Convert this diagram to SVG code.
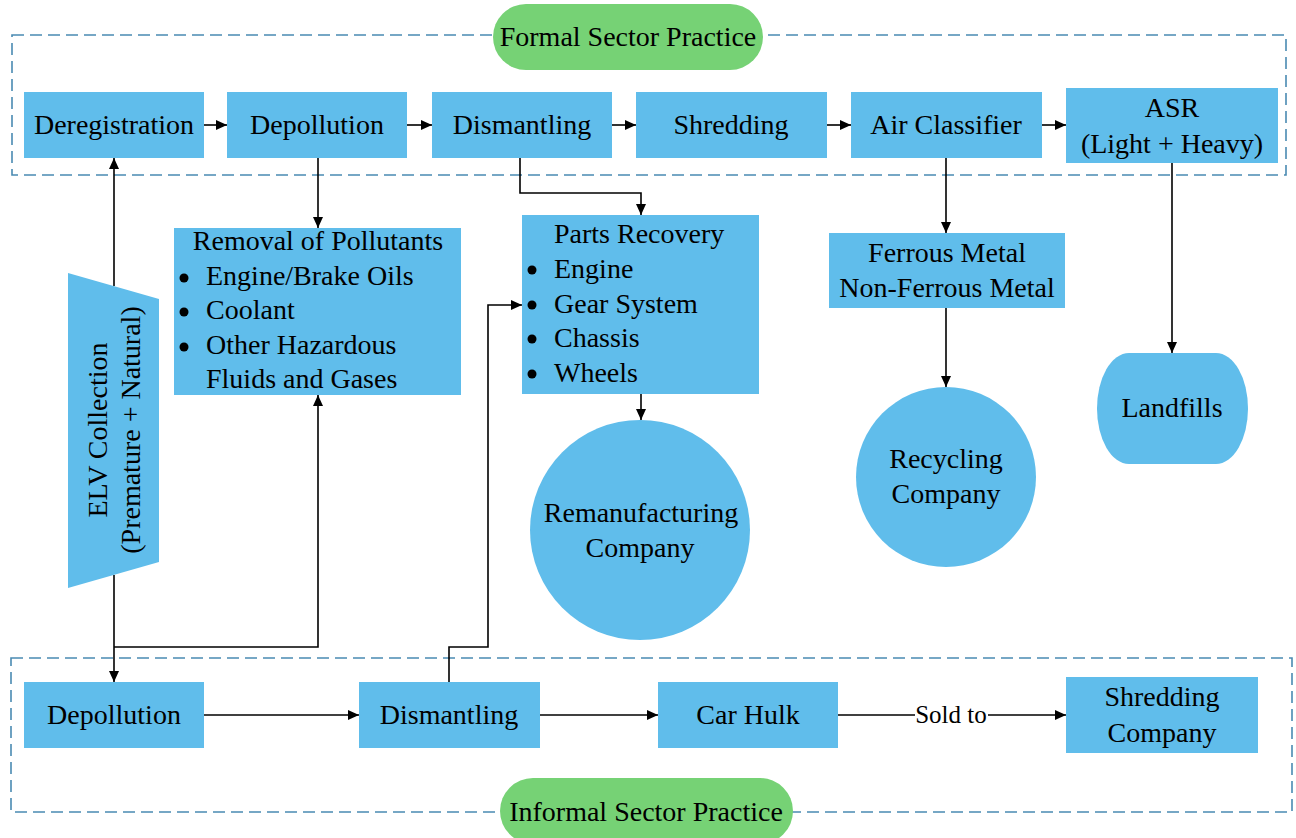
<svg xmlns="http://www.w3.org/2000/svg" width="1296" height="838" viewBox="0 0 1296 838">
  <defs>
    <marker id="arrow" markerUnits="userSpaceOnUse" markerWidth="12" markerHeight="10" refX="11" refY="5" orient="auto">
      <path d="M0,0 L11,5 L0,10 z" fill="#000"/>
    </marker>
    <style>
      .box { fill: #60BDEB; }
      .pill { fill: #76D275; }
      .zone { fill: none; stroke: #4A8AB2; stroke-width: 1.6; stroke-dasharray: 12 6; }
      .t { font-family: "Liberation Serif", "Times New Roman", serif; font-size: 28px; fill: #000; }
      .c { text-anchor: middle; }
      .small { font-size: 25px; }
      .link { fill: none; stroke: #000; stroke-width: 1.6; }
      .arr { marker-end: url(#arrow); }
    </style>
  </defs>
  <rect width="1296" height="838" fill="#fff"/>

  <!-- sector zones (dashed frames) -->
  <g id="zones">
    <rect class="zone" x="12" y="35" width="1274" height="140"/>
    <rect class="zone" x="11" y="658" width="1281" height="154"/>
  </g>

  <!-- connectors -->
  <g id="connectors">
    <line class="link arr" x1="204" y1="125" x2="227" y2="125"/>
    <line class="link arr" x1="407" y1="125" x2="432" y2="125"/>
    <line class="link arr" x1="612" y1="125" x2="636" y2="125"/>
    <line class="link arr" x1="827" y1="125" x2="851" y2="125"/>
    <line class="link arr" x1="1042" y1="125" x2="1066" y2="125"/>
    <!-- ELV collection up to deregistration -->
    <line class="link arr" x1="114" y1="286" x2="114" y2="158"/>
    <!-- depollution to removal of pollutants -->
    <line class="link arr" x1="318" y1="158" x2="318" y2="228"/>
    <!-- dismantling to parts recovery -->
    <polyline class="link arr" points="520,158 520,193 641,193 641,215"/>
    <line class="link arr" x1="641" y1="394" x2="641" y2="420"/>
    <!-- air classifier to metals, metals to recycling -->
    <line class="link arr" x1="946" y1="158" x2="946" y2="233"/>
    <line class="link arr" x1="946" y1="308" x2="946" y2="387"/>
    <!-- ASR to landfills -->
    <line class="link arr" x1="1172" y1="163" x2="1172" y2="353"/>
    <!-- ELV collection down to informal depollution -->
    <line class="link arr" x1="114" y1="575" x2="114" y2="682"/>
    <polyline class="link arr" points="114,647 318,647 318,395"/>
    <!-- informal dismantling to parts recovery -->
    <polyline class="link arr" points="449,682 449,647 488,647 488,305 522,305"/>
    <!-- informal chain -->
    <line class="link arr" x1="204" y1="715" x2="359" y2="715"/>
    <line class="link arr" x1="540" y1="715" x2="658" y2="715"/>
    <line class="link" x1="838" y1="715" x2="915" y2="715"/>
    <line class="link arr" x1="988" y1="715" x2="1066" y2="715"/>
    <text class="t small c" x="951" y="723">Sold to</text>
  </g>

  <g id="formal-label">
    <rect class="pill" x="493" y="4" width="270" height="66" rx="33"/>
    <text class="t c" x="628" y="46">Formal Sector Practice</text>
  </g>
  <g id="informal-label">
    <rect class="pill" x="500" y="778" width="293" height="66" rx="33"/>
    <text class="t c" x="646" y="821">Informal Sector Practice</text>
  </g>

  <g id="deregistration">
    <rect class="box" x="24" y="92" width="180" height="66"/>
    <text class="t c" x="114" y="134">Deregistration</text>
  </g>
  <g id="depollution">
    <rect class="box" x="227" y="92" width="180" height="66"/>
    <text class="t c" x="317" y="134">Depollution</text>
  </g>
  <g id="dismantling">
    <rect class="box" x="432" y="92" width="180" height="66"/>
    <text class="t c" x="522" y="134">Dismantling</text>
  </g>
  <g id="shredding">
    <rect class="box" x="636" y="92" width="191" height="66"/>
    <text class="t c" x="731" y="134">Shredding</text>
  </g>
  <g id="air-classifier">
    <rect class="box" x="851" y="92" width="191" height="66"/>
    <text class="t c" x="946" y="134">Air Classifier</text>
  </g>
  <g id="asr">
    <rect class="box" x="1066" y="88" width="212" height="75"/>
    <text class="t c" x="1172" y="117">ASR</text>
    <text class="t c" x="1172" y="153">(Light + Heavy)</text>
  </g>

  <g id="elv-collection">
    <polygon class="box" points="68,273 159,299 159,562 68,588"/>
    <g transform="translate(114,430) rotate(-90)">
      <text class="t c" x="0" y="-7">ELV Collection</text>
      <text class="t c" x="0" y="26">(Premature + Natural)</text>
    </g>
  </g>

  <g id="removal-of-pollutants">
    <rect class="box" x="174" y="228" width="287" height="167"/>
    <text class="t c" x="318" y="250">Removal of Pollutants</text>
    <circle cx="184" cy="278" r="4.5"/>
    <circle cx="184" cy="312" r="4.5"/>
    <circle cx="184" cy="347" r="4.5"/>
    <text class="t" x="206" y="285">Engine/Brake Oils</text>
    <text class="t" x="206" y="319">Coolant</text>
    <text class="t" x="206" y="354">Other Hazardous</text>
    <text class="t" x="206" y="388">Fluids and Gases</text>
  </g>

  <g id="parts-recovery">
    <rect class="box" x="522" y="215" width="237" height="179"/>
    <text class="t" x="554" y="243">Parts Recovery</text>
    <circle cx="532" cy="270" r="4.5"/>
    <circle cx="532" cy="305" r="4.5"/>
    <circle cx="532" cy="339" r="4.5"/>
    <circle cx="532" cy="374" r="4.5"/>
    <text class="t" x="554" y="278">Engine</text>
    <text class="t" x="554" y="313">Gear System</text>
    <text class="t" x="554" y="347">Chassis</text>
    <text class="t" x="554" y="382">Wheels</text>
  </g>

  <g id="metals">
    <rect class="box" x="829" y="233" width="236" height="75"/>
    <text class="t c" x="947" y="262">Ferrous Metal</text>
    <text class="t c" x="947" y="297">Non-Ferrous Metal</text>
  </g>

  <g id="remanufacturing">
    <circle class="box" cx="640" cy="530" r="110"/>
    <text class="t c" x="641" y="522">Remanufacturing</text>
    <text class="t c" x="640" y="557">Company</text>
  </g>

  <g id="recycling">
    <circle class="box" cx="946" cy="477" r="90"/>
    <text class="t c" x="946" y="468">Recycling</text>
    <text class="t c" x="946" y="503">Company</text>
  </g>

  <g id="landfills">
    <rect class="box" x="1097" y="353" width="151" height="111" rx="32" ry="55.5"/>
    <text class="t c" x="1172" y="417">Landfills</text>
  </g>

  <g id="informal-depollution">
    <rect class="box" x="24" y="682" width="180" height="66"/>
    <text class="t c" x="114" y="724">Depollution</text>
  </g>
  <g id="informal-dismantling">
    <rect class="box" x="359" y="682" width="181" height="66"/>
    <text class="t c" x="449" y="724">Dismantling</text>
  </g>
  <g id="car-hulk">
    <rect class="box" x="658" y="682" width="180" height="66"/>
    <text class="t c" x="748" y="724">Car Hulk</text>
  </g>
  <g id="shredding-company">
    <rect class="box" x="1066" y="677" width="192" height="76"/>
    <text class="t c" x="1162" y="706">Shredding</text>
    <text class="t c" x="1162" y="742">Company</text>
  </g>
</svg>
